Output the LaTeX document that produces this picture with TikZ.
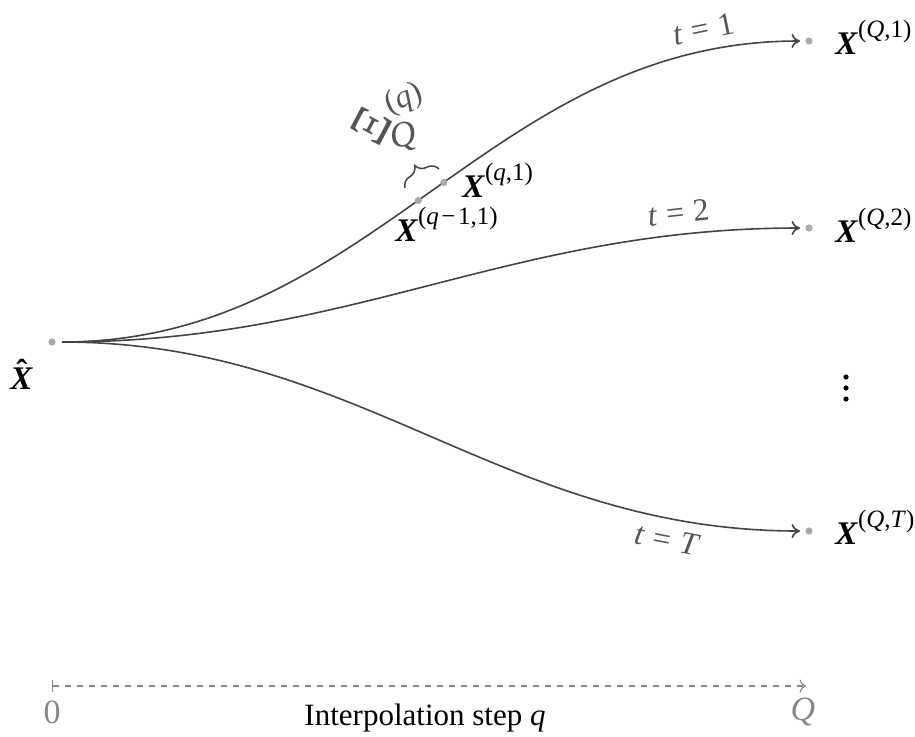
\documentclass[tikz,border=0pt]{standalone}
\usepackage{fontspec}
\setmainfont{Liberation Serif}
\usetikzlibrary{decorations.pathreplacing,arrows.meta}
\newcommand\BX{\textbf{\textit{X}}}
\newcommand\Xs[1]{\BX\raisebox{0.5em}{\fontsize{12.5}{12.5}\selectfont(#1)}}
\newcommand\Eq{\hspace{0.28em}=\hspace{0.28em}}
\definecolor{curvec}{HTML}{444444}
\definecolor{labc}{HTML}{555555}
\definecolor{axc}{HTML}{888888}
\definecolor{dotc}{HTML}{AAAAAA}
\begin{document}
\begin{tikzpicture}[x=0.5pt,y=-0.5pt,
  font=\fontsize{15.5}{18}\selectfont,
  dot/.style={circle,fill=dotc,inner sep=0pt,minimum size=3.6pt},
  curve/.style={draw=curvec,line width=0.8pt,-{To[length=4.2pt,width=7pt]}},
  tlab/.style={text=labc,sloped,inner sep=2pt,font=\fontsize{16}{18}\selectfont},
  xlab/.style={anchor=base west,inner sep=0pt,font=\fontsize{16.5}{18}\selectfont}]
\useasboundingbox (0,0) rectangle (915,736);
% start
\node[dot] (s) at (52,342) {};
\coordinate (c0) at (62,342);
\node[xlab] (xh) at (10,389) {\ooalign{\BX\cr\hidewidth\raisebox{0.2em}{\textbf{\char"02C6}}\hidewidth\cr}};
% end points
\coordinate (e1) at (800,41);
\coordinate (e2) at (800,228);
\coordinate (eT) at (800,531);
\node[dot] (d1) at (809,41) {};
\node[dot] (d2) at (809,228) {};
\node[dot] (dT) at (809,531) {};
\node[xlab] (l1) at (835,54) {\Xs{\textit{Q},1}};
\node[xlab] (l2) at (835,242) {\Xs{\textit{Q},2}};
\node[xlab] (lT) at (835,544) {\Xs{\textit{Q},\textit{T}}};
\fill (846,377) circle (1.3pt) (846,388) circle (1.3pt) (846,399) circle (1.3pt);
% curves
\draw[curve] (c0) to[out=0,in=180]
  node[dot,pos=0.48] (p0) {}
  node[dot,pos=0.52] (p1) {}
  node[tlab,pos=0.895,above=3pt] (t1) {\textit{t}\Eq 1} (e1);
\draw[curve] (c0) to[out=0,in=180]
  node[tlab,pos=0.855,above=3pt] (t2) {\textit{t}\Eq 2} (e2);
\draw[curve] (c0) to[out=0,in=180]
  node[tlab,pos=0.845,below=3pt] (tT) {\textit{t}\Eq\textit{T}} (eT);
% curve point labels
\node[xlab] (lq) at (462,197) {\Xs{\textit{q},1}};
\node[xlab] (lq1) at (395,241) {\Xs{\textit{q}\hspace{0.1em}−\hspace{0.1em}1,1}};
% brace
\coordinate (b0) at (405,188);
\coordinate (b1) at (439,169);
\draw[curvec,line width=0.75pt,decorate,decoration={brace,amplitude=7.5pt}] (b0) -- (b1);
\node[text=labc,rotate=62,inner sep=0pt] (xi) at (371,126) {\fontsize{26}{26}\selectfont Ξ};
\node[text=labc,rotate=15,inner sep=0pt] (xiQ) at (404,137) {\fontsize{18}{18}\selectfont\textit{Q}};
\node[text=labc,rotate=22,inner sep=0pt] (xiq) at (404,99) {\fontsize{16}{16}\selectfont(\textit{q})};
% axis
\coordinate (a0) at (52,686);
\coordinate (a1) at (806,686);
\draw[axc,line width=0.6pt,dashed,{Bar[width=6pt]}-{To[length=3.2pt,width=6.5pt]}] (a0) -- (a1);
\node[text=axc,font=\fontsize{17}{18}\selectfont] (z0) at (52,712) {0};
\node[text=axc,font=\fontsize{17}{18}\selectfont] (zQ) at (803,712) {\textit{Q}};
\node (ax) at (425,718) {Interpolation step \textit{q}};
\end{tikzpicture}
\end{document}
